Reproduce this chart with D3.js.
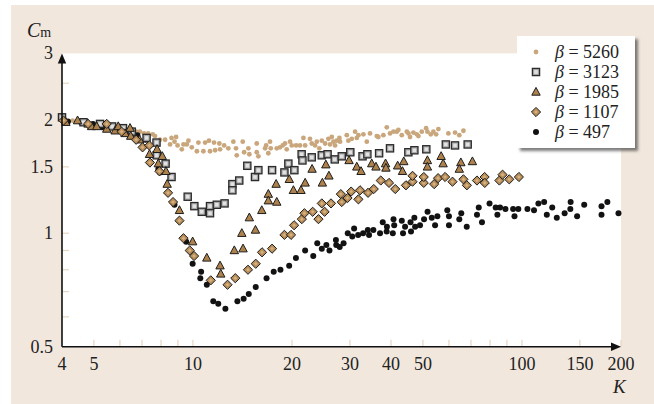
<!DOCTYPE html>
<html>
<head>
<meta charset="utf-8">
<script src="https://cdn.jsdelivr.net/npm/d3@7"></script>
<style>
body { margin: 0; background: #fff; }
svg { display: block; font-family: "Liberation Serif", "DejaVu Serif", serif; }
</style>
</head>
<body>
<svg id="chart" width="654" height="404"></svg>
<script>
// series values: [K, Cm]
let beta5260 = [[4.31,1.99],[4.70,1.96],[5.11,1.94],[5.60,1.92],[6.09,1.91],[6.52,1.89],[6.72,1.86],[6.90,1.86],[7.10,1.84],[7.31,1.84],
  [7.55,1.83],[7.67,1.81],[7.94,1.77],[8.23,1.77],[8.52,1.72],[8.61,1.79],[8.79,1.75],[8.89,1.80],[8.98,1.71],[9.25,1.67],
  [9.36,1.72],[9.58,1.72],[9.69,1.76],[9.92,1.69],[10.28,1.65],[10.39,1.74],[10.76,1.65],[10.89,1.74],[11.19,1.76],[11.27,1.65],
  [11.59,1.74],[11.68,1.66],[12.03,1.73],[12.09,1.67],[12.44,1.71],[12.81,1.68],[13.27,1.75],[13.52,1.68],[13.59,1.61],[14.17,1.75],
  [14.31,1.64],[14.74,1.68],[14.84,1.62],[15.63,1.73],[15.63,1.64],[15.81,1.60],[16.57,1.68],[16.69,1.71],[16.95,1.63],[17.15,1.75],
  [17.24,1.68],[17.98,1.68],[18.39,1.69],[18.74,1.71],[19.05,1.73],[19.28,1.67],[19.73,1.75],[19.97,1.71],[20.59,1.71],[21.16,1.71],
  [21.67,1.79],[21.93,1.71],[22.69,1.78],[22.97,1.73],[23.51,1.71],[23.79,1.75],[24.22,1.68],[24.64,1.76],[25.22,1.73],[25.80,1.78],
  [26.10,1.72],[26.42,1.80],[26.73,1.75],[27.04,1.71],[27.37,1.76],[27.87,1.79],[28.0,1.75],[29.35,1.82],[29.68,1.76],[30.39,1.78],
  [31.11,1.86],[31.48,1.79],[31.84,1.82],[32.97,1.83],[33.76,1.75],[34.53,1.84],[36.21,1.81],[36.61,1.80],[37.92,1.82],[38.83,1.91],
  [39.72,1.84],[40.67,1.86],[41.65,1.86],[42.11,1.88],[43.13,1.82],[44.67,1.86],[45.18,1.84],[45.69,1.80],[46.78,1.85],[47.91,1.83],
  [48.46,1.81],[49.6,1.86],[51.14,1.90],[51.6,1.86],[52.83,1.83],[53.8,1.86],[54.85,1.83],[55.72,1.89],[59.76,1.84],[62.6,1.85],
  [64.5,1.82],[66.4,1.87]]

let beta3123 = [[4.0,2.03],[4.65,1.97],[5.22,1.95],[5.68,1.92],[6.13,1.90],[6.52,1.86],[7.23,1.79],[7.75,1.74],[7.76,1.61],[8.26,1.53],
  [8.61,1.41],[9.64,1.25],[10.1,1.18],[10.64,1.14],[11.27,1.18],[11.27,1.13],[11.82,1.19],[12.48,1.20],[13.18,1.35],[13.18,1.30],
  [13.83,1.38],[14.63,1.51],[15.44,1.41],[15.81,1.47],[17.4,1.47],[18.97,1.45],[19.5,1.53],[20.34,1.47],[21.4,1.62],[21.52,1.56],
  [22.97,1.59],[24.64,1.61],[25.66,1.62],[26.98,1.57],[28.34,1.60],[30.08,1.64],[32.77,1.60],[33.9,1.62],[36.8,1.63],[39.72,1.68],
  [45.16,1.64],[47.1,1.66],[51.2,1.67],[58.7,1.72],[62.6,1.71],[68.4,1.72]]

let beta1985 = [[4.11,1.97],[4.46,1.99],[4.80,1.95],[4.92,1.92],[5.10,1.92],[5.47,1.89],[5.80,1.87],[5.93,1.92],[6.22,1.84],[6.44,1.90],
  [6.47,1.81],[6.88,1.77],[7.38,1.62],[7.78,1.67],[7.85,1.53],[8.07,1.60],[8.28,1.46],[8.35,1.35],[9.10,1.15],[9.98,0.95],
  [11.02,0.86],[12.09,0.82],[12.15,0.78],[13.36,0.90],[14.2,0.91],[14.08,1.00],[14.84,1.10],[15.49,1.02],[16.19,1.15],[16.95,1.27],
  [16.95,1.22],[17.98,1.21],[17.9,1.35],[19.63,1.39],[20.2,1.30],[21.3,1.30],[21.93,1.36],[23.02,1.48],[24.74,1.36],[25.35,1.52],
  [25.9,1.42],[29.82,1.56],[31.48,1.50],[32.43,1.46],[34.95,1.53],[36.0,1.50],[38.5,1.53],[38.6,1.49],[41.9,1.51],[43.34,1.46],
  [43.73,1.55],[51.6,1.56],[51.6,1.50],[56.8,1.60],[57.6,1.53],[65.2,1.54],[64.5,1.48],[70.7,1.55]]

let beta1107 = [[4.04,1.99],[4.80,1.95],[5.47,1.95],[6.07,1.86],[6.72,1.77],[7.03,1.69],[7.37,1.71],[7.40,1.54],[7.91,1.46],[8.40,1.28],
  [8.70,1.21],[9.10,1.08],[9.36,0.97],[9.78,0.90],[10.08,0.87],[11.33,0.75],[12.74,0.73],[13.45,0.76],[14.7,0.80],[15.52,0.83],
  [16.22,0.89],[17.4,0.91],[18.97,0.99],[19.87,0.99],[20.3,1.05],[21.43,1.09],[21.82,1.13],[23.12,1.14],[24.07,1.09],[24.64,1.20],
  [25.13,1.14],[26.28,1.20],[28.15,1.27],[28.34,1.21],[29.5,1.24],[30.26,1.29],[31.84,1.23],[32.2,1.30],[34.06,1.28],[35.45,1.31],
  [37.23,1.38],[39.45,1.36],[41.2,1.31],[44.4,1.34],[46.5,1.37],[46.5,1.42],[50.3,1.36],[50.3,1.41],[54.1,1.35],[55.6,1.40],
  [58.4,1.41],[61.5,1.37],[66.4,1.39],[68.0,1.34],[73.0,1.38],[77.0,1.41],[77.1,1.36],[85.4,1.38],[87.3,1.43],[91.5,1.39],[97.9,1.41]]

let beta497 = [[4.17,1.98],[4.57,1.97],[4.97,1.95],[5.29,1.91],[5.84,1.89],[6.31,1.86],[6.78,1.82],[7.18,1.77],[7.85,1.48],[7.94,1.45],
  [8.79,1.19],[9.54,0.95],[9.98,0.83],[10.59,0.79],[10.53,0.76],[11.02,0.73],[11.53,0.66],[11.94,0.65],[12.55,0.63],[13.65,0.66],
  [14.26,0.67],[14.78,0.69],[15.52,0.72],[16.74,0.76],[17.6,0.79],[18.45,0.80],[19.61,0.82],[20.56,0.86],[21.93,0.90],[23.21,0.87],
  [23.87,0.94],[24.64,0.91],[25.44,0.93],[26.0,0.90],[27.2,0.96],[27.26,0.93],[27.93,0.92],[28.7,0.94],[29.55,1.00],[30.5,0.98],
  [30.9,1.03],[31.78,0.99],[32.9,1.00],[34.0,1.02],[34.3,0.99],[35.35,1.02],[37.04,1.00],[37.75,1.07],[38.87,1.04],[38.8,1.01],
  [40.5,1.00],[40.7,1.09],[40.9,1.05],[43.13,1.08],[43.5,1.00],[44.13,1.04],[45.85,1.07],[46.0,1.01],[47.1,1.10],[47.34,1.04],
  [49.0,1.05],[50.4,1.09],[51.65,1.14],[53.2,1.10],[54.45,1.05],[55.33,1.11],[59.3,1.15],[60.0,1.11],[60.0,1.05],[64.5,1.09],
  [65.4,1.13],[67.95,1.04],[73.0,1.12],[73.9,1.17],[75.6,1.07],[79.7,1.20],[83.2,1.17],[84.2,1.12],[85.8,1.17],[89.1,1.16],
  [94.0,1.16],[94.9,1.11],[97.5,1.16],[103.9,1.16],[108.8,1.15],[112.2,1.20],[116.8,1.21],[119.0,1.12],[123.6,1.17],[127.6,1.10],
  [134.8,1.13],[140.3,1.16],[140.6,1.21],[147.1,1.11],[154.6,1.19],[174.5,1.12],[174.5,1.18],[181.8,1.21],[196.5,1.13]]

let legendLabels = ["5260", "3123", "1985", "1107", "497"]
let xTickValues = [5, 6, 7, 8, 9, 10, 20, 30, 40, 50, 60, 70, 80, 90, 100, 150, 200]
let xLabelValues = [4, 5, 10, 20, 30, 40, 50, 100, 150, 200]
let yTickValues = [0.6, 0.7, 0.8, 0.9, 1, 1.5, 2, 2.5]
let yLabelValues = [0.5, 1, 1.5, 2, 3]

let svg = d3.select("#chart")
let x = d3.scaleLog().domain([4, 200]).range([62, 621])
let y = d3.scaleLog().domain([0.5, 3]).range([346.7, 53.4])

const beige = "#f1e7dd"
const tickColor = "#e6d5c2"

// marker painters, one per series
function drawDot(g, color, r) {
    g.append("circle").attr("r", r).attr("fill", color)
}
function drawSquare(g) {
    g.append("rect").attr("x", -3.6).attr("y", -3.6).attr("width", 7.2).attr("height", 7.2)
        .attr("fill", "#a9a9a9").attr("stroke", "#2b2b2b").attr("stroke-width", 1.3)
    g.append("rect").attr("x", -1.8).attr("y", -1.8).attr("width", 3.6).attr("height", 3.6)
        .attr("fill", "#e2e2e2")
}
function drawTriangle(g) {
    g.append("path").attr("d", "M0,-4.6L4.2,3.2L-4.2,3.2Z")
        .attr("fill", "#ae824c").attr("stroke", "#1c1c1c").attr("stroke-width", 1)
}
function drawDiamond(g) {
    g.append("path").attr("d", "M0,-4.6L4.6,0L0,4.6L-4.6,0Z")
        .attr("fill", "#b98e58").attr("stroke", "#1c1c1c").attr("stroke-width", 1)
    g.append("path").attr("d", "M0,-1.8L1.8,0L0,1.8L-1.8,0Z").attr("fill", "#d6b383")
}

let painters = [
    g => drawDot(g, "#c9a67b", 2.4),
    drawSquare,
    drawTriangle,
    drawDiamond,
    g => drawDot(g, "#121212", 3)
]

function drawChart() {
    let defs = svg.append("defs")
    let f = defs.append("filter").attr("id", "shadow").attr("x", "-10%").attr("y", "-10%")
        .attr("width", "130%").attr("height", "130%")
    f.append("feDropShadow").attr("dx", 3).attr("dy", 3).attr("stdDeviation", 1.8)
        .attr("flood-color", "#444").attr("flood-opacity", 0.7)

    // background panel and plot area
    svg.append("rect").attr("x", 11).attr("y", 5).attr("width", 643).attr("height", 399).attr("fill", beige)
    svg.append("rect").attr("x", x(4)).attr("y", y(3)).attr("width", x(200) - x(4)).attr("height", y(0.5) - y(3))
        .attr("fill", "#fff")

    // tick marks pointing inward
    svg.selectAll(".xtick").data(xTickValues).enter().append("line")
        .attr("x1", d => x(d)).attr("x2", d => x(d))
        .attr("y1", y(0.5)).attr("y2", y(0.5) - 7)
        .attr("stroke", tickColor).attr("stroke-width", 1.2)
    svg.selectAll(".ytick").data(yTickValues).enter().append("line")
        .attr("x1", x(4)).attr("x2", x(4) + 7)
        .attr("y1", d => y(d)).attr("y2", d => y(d))
        .attr("stroke", tickColor).attr("stroke-width", 1.2)

    // points, bottom series first
    let series = [beta5260, beta3123, beta1985, beta1107, beta497]
    let order = [0, 4, 1, 2, 3]
    order.forEach(i => {
        svg.append("g").selectAll("g").data(series[i]).enter().append("g")
            .attr("transform", d => `translate(${x(d[0])},${y(d[1])})`)
            .each(function () { painters[i](d3.select(this)) })
    })

    // axes with arrow heads
    let x0 = x(4), y0 = y(0.5)
    svg.append("line").attr("x1", x0).attr("x2", x(200) - 8).attr("y1", y0).attr("y2", y0)
        .attr("stroke", "#111").attr("stroke-width", 1.6)
    svg.append("path").attr("d", `M${x(200)},${y0}L${x(200) - 10},${y0 - 4.2}L${x(200) - 10},${y0 + 4.2}Z`).attr("fill", "#111")
    svg.append("line").attr("x1", x0).attr("x2", x0).attr("y1", y0).attr("y2", y(3) + 8)
        .attr("stroke", "#111").attr("stroke-width", 1.6)
    svg.append("path").attr("d", `M${x0},${y(3)}L${x0 - 4.2},${y(3) + 10}L${x0 + 4.2},${y(3) + 10}Z`).attr("fill", "#111")

    // tick labels
    svg.selectAll(".xlab").data(xLabelValues).enter().append("text")
        .attr("x", d => x(d)).attr("y", 370)
        .attr("text-anchor", "middle").attr("font-size", 18).attr("fill", "#222")
        .text(d => d)
    svg.selectAll(".ylab").data(yLabelValues).enter().append("text")
        .attr("x", 53).attr("y", d => y(d) + 6)
        .attr("text-anchor", "end").attr("font-size", 18).attr("fill", "#222")
        .text(d => d)

    // axis titles
    let ct = svg.append("text").attr("x", 27).attr("y", 37).attr("fill", "#222")
    ct.append("tspan").attr("font-style", "italic").attr("font-size", 20).text("C")
    ct.append("tspan").attr("font-size", 14).text("m")
    svg.append("text").attr("x", 613).attr("y", 393).attr("font-style", "italic")
        .attr("font-size", 19).attr("fill", "#222").text("K")

    // legend
    let lg = svg.append("g")
    lg.append("rect").attr("x", 517).attr("y", 36).attr("width", 118).attr("height", 112)
        .attr("fill", "#fff").attr("filter", "url(#shadow)")
    legendLabels.forEach((lab, i) => {
        let cy = 52 + i * 20
        let sym = lg.append("g").attr("transform", `translate(536,${cy})`)
        painters[i](sym)
        let t = lg.append("text").attr("x", 555).attr("y", cy + 6).attr("font-size", 18).attr("fill", "#222")
        t.append("tspan").attr("font-style", "italic").text("β")
        t.append("tspan").text(" = " + lab)
    })
}

drawChart()
</script>
</body>
</html>
